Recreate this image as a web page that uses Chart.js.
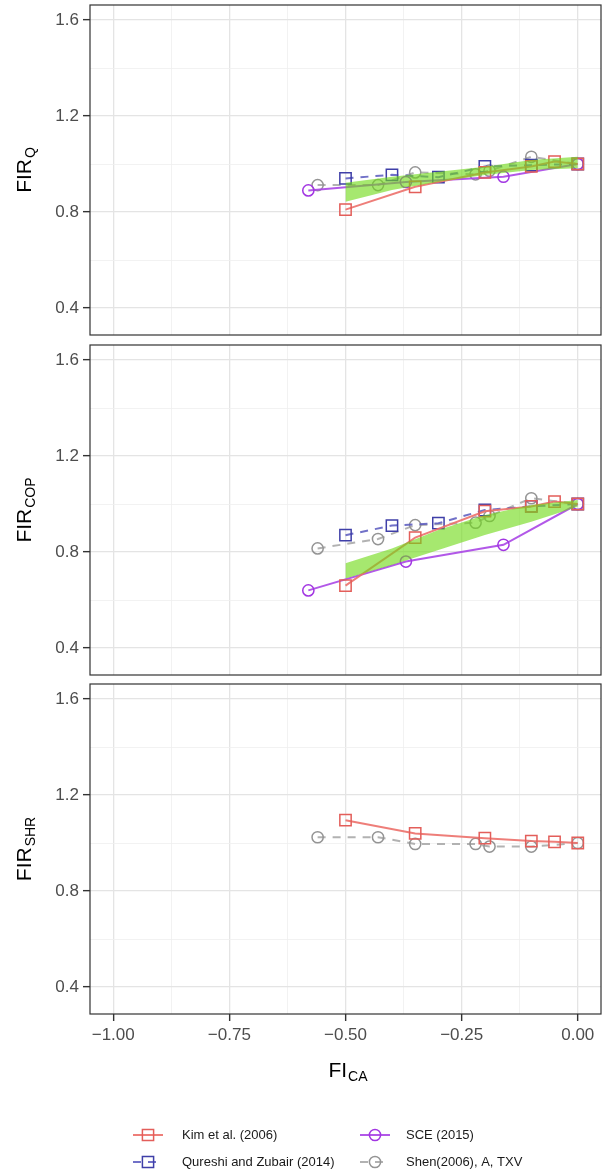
<!DOCTYPE html>
<html>
<head>
<meta charset="utf-8">
<script src="https://cdn.jsdelivr.net/npm/chart.js@4.4.0/dist/chart.umd.min.js"></script>
<style>
  html, body { margin: 0; padding: 0; background: #ffffff; }
  #wrap { position: relative; width: 602px; height: 1175px; overflow: hidden; }
  .pane { position: absolute; left: 0; width: 602px; }
  canvas { display: block; }
</style>
</head>
<body>
<div id="wrap">
  <div class="pane" style="top:0px;height:340px"><canvas id="cQ" width="602" height="340"></canvas></div>
  <div class="pane" style="top:340px;height:340px"><canvas id="cCOP" width="602" height="340"></canvas></div>
  <div class="pane" style="top:680px;height:495px"><canvas id="cSHR" width="602" height="495"></canvas></div>
</div>
<script>
// ---- data ----
const kimX   = [-0.50, -0.35, -0.20, -0.10, -0.05, 0.00];
const kimQ   = [0.81, 0.905, 0.965, 0.99, 1.01, 1.00];
const kimCOP = [0.66, 0.86, 0.97, 0.99, 1.01, 1.00];
const kimSHR = [1.095, 1.04, 1.02, 1.008, 1.005, 1.00];

const qurX   = [-0.50, -0.40, -0.30, -0.20, -0.10, 0.00];
const qurQ   = [0.94, 0.955, 0.945, 0.99, 0.995, 1.00];
const qurCOP = [0.87, 0.91, 0.92, 0.975, 0.99, 1.00];

const sceX   = [-0.58, -0.37, -0.16, 0.00];
const sceQ   = [0.89, 0.925, 0.947, 1.00];
const sceCOP = [0.64, 0.76, 0.83, 1.00];

const shenX   = [-0.56, -0.43, -0.35, -0.22, -0.19, -0.10, 0.00];
const shenQ   = [0.912, 0.912, 0.965, 0.957, 0.972, 1.03, 1.00];
const shenCOP = [0.815, 0.854, 0.912, 0.922, 0.95, 1.024, 1.00];
const shenSHR = [1.024, 1.024, 0.996, 0.996, 0.985, 0.985, 1.00];

// shaded band (lower / upper edges)
const bandX     = [-0.50, -0.40, -0.30, -0.20, -0.10, 0.00];
const bandQLo   = [0.843, 0.892, 0.926, 0.954, 0.975, 0.982];
const bandQHi   = [0.922, 0.947, 0.968, 0.989, 1.017, 1.030];
const bandCOPLo = [0.69, 0.746, 0.808, 0.871, 0.926, 0.989];
const bandCOPHi = [0.753, 0.815, 0.892, 0.954, 0.996, 1.017];

// axes
const xMajor = [-1.00, -0.75, -0.50, -0.25, 0.00];
const xMinor = [-0.875, -0.625, -0.375, -0.125];
const xTickLabels = ['\u22121.00', '\u22120.75', '\u22120.50', '\u22120.25', '0.00'];
const yMajor = [0.4, 0.8, 1.2, 1.6];
const yMinor = [0.6, 1.0, 1.4];
const yTickLabels = ['0.4', '0.8', '1.2', '1.6'];

// ---- styling ----
const FONT = '"Liberation Sans", Arial, Helvetica, sans-serif';
Chart.defaults.font.family = FONT;

const STYLE = {
  kim:  { label: 'Kim et al. (2006)',         line: 'rgba(236,112,106,0.9)', point: '#e35e5a', shape: 'rect',   dash: [] },
  qur:  { label: 'Qureshi and Zubair (2014)', line: 'rgba(88,88,190,0.85)',  point: '#3f3fa8', shape: 'rect',   dash: [8, 7] },
  sce:  { label: 'SCE (2015)',                line: 'rgba(170,70,230,0.9)',  point: '#a236e2', shape: 'circle', dash: [] },
  shen: { label: 'Shen(2006), A, TXV',        line: 'rgba(170,170,170,0.9)', point: '#949494', shape: 'circle', dash: [8, 7] }
};
const LEGEND_ORDER = [['kim', 'sce'], ['qur', 'shen']];
const BAND_FILL = 'rgba(112,218,22,0.62)';

const near = (arr, v) => arr.some(m => Math.abs(m - v) < 1e-9);

function pts(xs, ys) { return xs.map((x, i) => ({ x: x, y: ys[i] })); }

function series(key, xs, ys, order) {
  const s = STYLE[key];
  return {
    label: s.label,
    data: pts(xs, ys),
    borderColor: s.line,
    borderWidth: 2,
    borderDash: s.dash,
    pointStyle: s.shape,
    pointRadius: s.shape === 'rect' ? 8 : 5.6,
    pointBorderColor: s.point,
    pointBackgroundColor: 'rgba(0,0,0,0)',
    pointBorderWidth: 1.5,
    tension: 0,
    fill: false,
    order: order
  };
}

function band(xs, lo, hi) {
  return [
    { data: pts(xs, lo), borderWidth: 0, pointRadius: 0, fill: false, order: -1 },
    { data: pts(xs, hi), borderWidth: 0, pointRadius: 0, fill: '-1', backgroundColor: BAND_FILL, order: -1 }
  ];
}

// title with a subscript part, optionally rotated for the y axis
function subTitle(ctx, main, sub, cx, cy, rotated) {
  ctx.save();
  ctx.translate(cx, cy);
  if (rotated) ctx.rotate(-Math.PI / 2);
  ctx.fillStyle = '#000000';
  ctx.textAlign = 'left';
  ctx.textBaseline = 'alphabetic';
  ctx.font = '21px ' + FONT;
  const w1 = ctx.measureText(main).width;
  ctx.font = '14px ' + FONT;
  const w2 = ctx.measureText(sub).width;
  const x0 = -(w1 + w2 + 1) / 2;
  ctx.font = '21px ' + FONT;
  ctx.fillText(main, x0, 7.5);
  ctx.font = '14px ' + FONT;
  ctx.fillText(sub, x0 + w1 + 1, 11.5);
  ctx.restore();
}

function legendKey(ctx, key, cx, cy) {
  const s = STYLE[key];
  ctx.save();
  ctx.strokeStyle = s.line;
  ctx.lineWidth = 2;
  ctx.setLineDash(s.dash);
  ctx.beginPath();
  ctx.moveTo(cx - 15, cy);
  ctx.lineTo(cx + 15, cy);
  ctx.stroke();
  ctx.setLineDash([]);
  ctx.strokeStyle = s.point;
  ctx.lineWidth = 1.5;
  ctx.beginPath();
  if (s.shape === 'rect') ctx.rect(cx - 5.6, cy - 5.6, 11.2, 11.2);
  else ctx.arc(cx, cy, 5.6, 0, Math.PI * 2);
  ctx.stroke();
  ctx.restore();
}

const decor = {
  id: 'decor',
  afterDatasetsDraw(chart) {
    const { ctx, chartArea: a } = chart;
    ctx.save();
    ctx.strokeStyle = '#333333';
    ctx.lineWidth = 1.2;
    ctx.strokeRect(a.left, a.top, a.right - a.left, a.bottom - a.top);
    ctx.restore();
  },
  afterDraw(chart, args, o) {
    const { ctx, chartArea: a } = chart;
    subTitle(ctx, o.yMain, o.ySub, 23.5, (a.top + a.bottom) / 2, true);
    if (o.xMain) {
      subTitle(ctx, o.xMain, o.xSub, 348, a.bottom + 55, false);
      const colKey = [148, 375];
      const colText = [182, 406];
      const rowY = [a.bottom + 121, a.bottom + 148];
      ctx.save();
      ctx.font = '13px ' + FONT;
      ctx.fillStyle = '#1a1a1a';
      ctx.textBaseline = 'middle';
      ctx.textAlign = 'left';
      LEGEND_ORDER.forEach((row, r) => {
        row.forEach((key, c) => {
          legendKey(ctx, key, colKey[c], rowY[r]);
          ctx.fillText(STYLE[key].label, colText[c], rowY[r]);
        });
      });
      ctx.restore();
    }
  }
};

function gridOpts(major, showTicks) {
  return {
    color: c => near(major, c.tick.value) ? '#e4e4e4' : '#efefef',
    lineWidth: c => near(major, c.tick.value) ? 1.3 : 0.8,
    tickColor: c => near(major, c.tick.value) ? '#333333' : 'rgba(0,0,0,0)',
    tickWidth: 1.4,
    tickLength: 7,
    drawTicks: showTicks,
    drawOnChartArea: true
  };
}

// keep the plot area fixed: no extra room for overhanging tick labels
function noOverhang(s) {
  s.paddingLeft = 0; s.paddingRight = 0; s.paddingTop = 0; s.paddingBottom = 0;
}

function makePanel(id, datasets, yMain, ySub, bottom) {
  return new Chart(document.getElementById(id), {
    type: 'line',
    data: { datasets: datasets },
    plugins: [decor],
    options: {
      responsive: false,
      animation: false,
      events: [],
      layout: { autoPadding: false, padding: { left: 0, right: 1, top: bottom ? 4 : 5, bottom: bottom ? 0 : 5 } },
      plugins: {
        legend: { display: false },
        tooltip: { enabled: false },
        decor: { yMain: yMain, ySub: ySub, xMain: bottom ? 'FI' : null, xSub: bottom ? 'CA' : null }
      },
      scales: {
        x: {
          type: 'linear',
          min: -1.05,
          max: 0.05,
          afterBuildTicks: s => { s.ticks = xMajor.concat(xMinor).sort((p, q) => p - q).map(v => ({ value: v })); },
          afterFit: s => { s.height = bottom ? 161 : 0; noOverhang(s); },
          border: { display: false },
          grid: gridOpts(xMajor, bottom),
          ticks: {
            display: bottom,
            autoSkip: false,
            maxRotation: 0,
            padding: 4,
            color: '#4d4d4d',
            font: { size: 17 },
            callback: v => { const i = xMajor.findIndex(m => Math.abs(m - v) < 1e-9); return i >= 0 ? xTickLabels[i] : ''; }
          }
        },
        y: {
          type: 'linear',
          min: 0.2875,
          max: 1.6625,
          afterBuildTicks: s => { s.ticks = yMajor.concat(yMinor).sort((p, q) => p - q).map(v => ({ value: v })); },
          afterFit: s => { s.width = 90; noOverhang(s); },
          border: { display: false },
          grid: gridOpts(yMajor, true),
          ticks: {
            autoSkip: false,
            padding: 4,
            color: '#4d4d4d',
            font: { size: 17 },
            callback: v => { const i = yMajor.findIndex(m => Math.abs(m - v) < 1e-9); return i >= 0 ? yTickLabels[i] : ''; }
          }
        }
      }
    }
  });
}

makePanel('cQ', [
  ...band(bandX, bandQLo, bandQHi),
  series('kim', kimX, kimQ, 1),
  series('qur', qurX, qurQ, 2),
  series('sce', sceX, sceQ, 3),
  series('shen', shenX, shenQ, 4)
], 'FIR', 'Q', false);

makePanel('cCOP', [
  ...band(bandX, bandCOPLo, bandCOPHi),
  series('kim', kimX, kimCOP, 1),
  series('qur', qurX, qurCOP, 2),
  series('sce', sceX, sceCOP, 3),
  series('shen', shenX, shenCOP, 4)
], 'FIR', 'COP', false);

makePanel('cSHR', [
  series('kim', kimX, kimSHR, 1),
  series('shen', shenX, shenSHR, 4)
], 'FIR', 'SHR', true);
</script>
</body>
</html>
